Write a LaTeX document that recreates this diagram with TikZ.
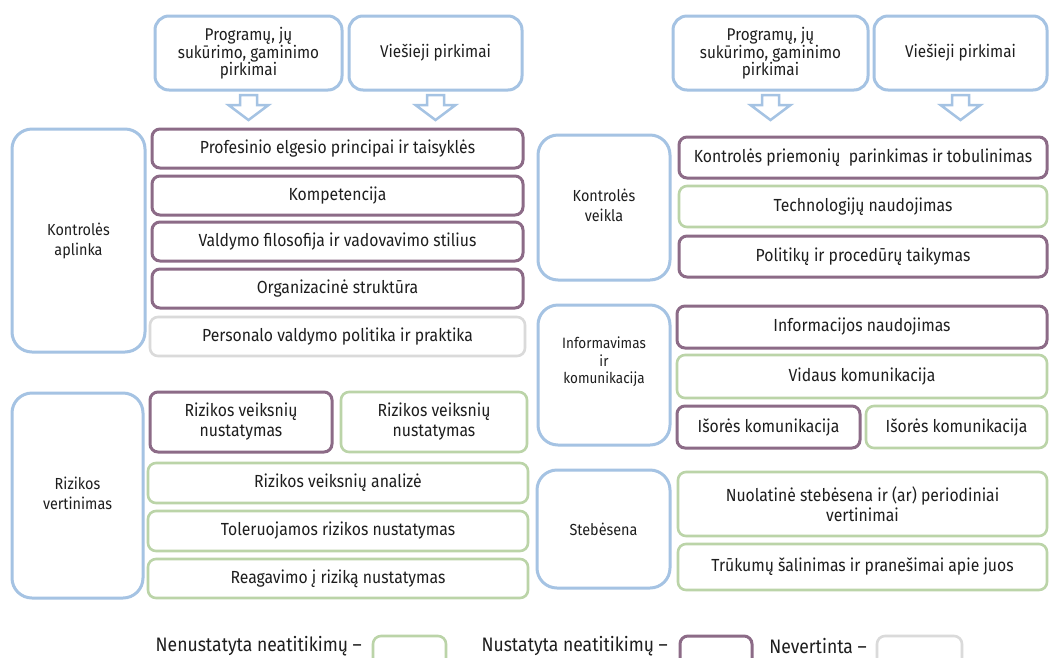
\documentclass[tikz,border=0pt]{standalone}
\usepackage{fontspec}
\setmainfont{Fira Sans}[FakeStretch=0.9]
\usetikzlibrary{calc}
\definecolor{cblue}{HTML}{A5C3E3}
\definecolor{cpurple}{HTML}{8C6B87}
\definecolor{cgreen}{HTML}{BBD4A8}
\definecolor{cgray}{HTML}{DADADA}
\definecolor{ctext}{HTML}{1E1E1E}
\tikzset{
  base/.style={draw, rounded corners=8pt, inner sep=0pt, outer sep=0pt, align=center,
    font=\fontsize{17.5}{20}\selectfont, text=ctext},
  bluebox/.style={base, draw=cblue, line width=3pt, rounded corners=20pt},
  hdrbox/.style={base, draw=cblue, line width=3pt, rounded corners=14pt, font=\fontsize{17}{17}\selectfont},
  purplebox/.style={base, draw=cpurple, line width=3pt},
  greenbox/.style={base, draw=cgreen, line width=2.6pt},
  graybox/.style={base, draw=cgray, line width=2.6pt},
  blockarrow/.style={draw=cblue, line width=2.5pt, fill=white, line join=miter},
  legtext/.style={inner sep=0pt, anchor=east, font=\fontsize{19.5}{21}\selectfont, text=ctext},
  lbl/.style={inner sep=0pt, align=center, font=\fontsize{16}{20}\selectfont, text=ctext},
}
\newcommand{\bx}[7]{\node[#1, minimum width={#5-#3}, minimum height={#6-#4}] (#2) at ({(#3+#5)/2},{(#4+#6)/2}) {#7};}
\newcommand{\darr}[1]{\draw[blockarrow] ($(#1.south)+(-8.5,5)$) -- ++(17,0) -- ++(0,10) -- ++(11.5,0) -- ++(-20,15) -- ++(-20,-15) -- ++(11.5,0) -- cycle;}
\begin{document}
\begin{tikzpicture}[x=1pt,y=-1pt]
\clip (0,0) rectangle (1050,657);
\fill[white] (0,0) rectangle (1050,657);
% left headers
\bx{hdrbox}{h1}{155}{16}{342}{90}{Programų, jų\\sukūrimo, gaminimo\\pirkimai}
\bx{hdrbox}{h2}{349}{16}{522}{90}{Viešieji pirkimai}
\darr{h1}
\darr{h2}
% Kontrolės aplinka
\bx{bluebox}{ka}{12}{129}{145}{352}{}
\node[lbl] (kat) at (ka.center) {Kontrolės\\aplinka};
\bx{purplebox}{r1}{152}{129}{523}{168}{Profesinio elgesio principai ir taisyklės}
\bx{purplebox}{r2}{152}{176}{523}{215}{Kompetencija}
\bx{purplebox}{r3}{152}{222}{523}{261}{Valdymo filosofija ir vadovavimo stilius}
\bx{purplebox}{r4}{152}{269}{523}{308}{Organizacinė struktūra}
\bx{graybox}{r5}{150}{317}{525}{356}{Personalo valdymo politika ir praktika}
% Rizikos vertinimas
\bx{bluebox}{rv}{12}{393}{143}{598}{}
\node[lbl] (rvt) at ($(rv.center)+(0,-2)$) {Rizikos\\vertinimas};
\bx{purplebox}{s1a}{150}{392}{332}{452}{Rizikos veiksnių\\nustatymas}
\bx{greenbox}{s1b}{341}{392}{527}{452}{Rizikos veiksnių\\nustatymas}
\bx{greenbox}{s2}{148}{463}{528}{503}{Rizikos veiksnių analizė}
\bx{greenbox}{s3}{148}{511}{528}{551}{Toleruojamos rizikos nustatymas}
\bx{greenbox}{s4}{148}{559}{528}{598}{Reagavimo į riziką nustatymas}
% right headers
\bx{hdrbox}{h3}{673}{16}{868}{90}{Programų, jų\\sukūrimo, gaminimo\\pirkimai}
\bx{hdrbox}{h4}{874}{16}{1047}{90}{Viešieji pirkimai}
\darr{h3}
\darr{h4}
% Kontrolės veikla
\bx{bluebox}{kv}{538}{135}{670}{280}{}
\node[lbl] (kvt) at ($(kv.center)+(0,-2)$) {Kontrolės\\veikla};
\bx{purplebox}{t1}{679}{137}{1047}{178}{Kontrolės priemonių\ \ parinkimas ir tobulinimas}
\bx{greenbox}{t2}{679}{186}{1047}{227}{Technologijų naudojimas}
\bx{purplebox}{t3}{679}{236}{1047}{277}{Politikų ir procedūrų taikymas}
% Informavimas ir komunikacija
\bx{bluebox}{ik}{538}{305}{670}{445}{}
\node[lbl, font=\fontsize{15}{17.5}\selectfont] (ikt) at ($(ik.center)+(0,-13)$) {Informavimas\\ir\\komunikacija};
\bx{purplebox}{u1}{677}{306}{1047}{348}{Informacijos naudojimas}
\bx{greenbox}{u2}{677}{355}{1047}{398}{Vidaus komunikacija}
\bx{purplebox}{u3a}{677}{406}{860}{448}{Išorės komunikacija}
\bx{greenbox}{u3b}{866}{406}{1047}{448}{Išorės komunikacija}
% Stebėsena
\bx{bluebox}{st}{537}{470}{670}{588}{}
\node[lbl] (stt) at (st.center) {Stebėsena};
\bx{greenbox}{v1}{678}{472}{1047}{536}{Nuolatinė stebėsena ir (ar) periodiniai\\vertinimai}
\bx{greenbox}{v2}{678}{544}{1047}{590}{Trūkumų šalinimas ir pranešimai apie juos}
% legend
\node[legtext] (l1) at (362,646) {Nenustatyta neatitikimų –};
\bx{greenbox}{lg}{373}{636}{446}{685}{}
\node[legtext] (l2) at (668,646) {Nustatyta neatitikimų –};
\bx{purplebox}{lp}{680}{636}{752}{685}{}
\node[legtext] (l3) at (867,646) {Nevertinta –};
\bx{graybox}{lw}{877}{636}{962}{685}{}
\end{tikzpicture}
\end{document}
